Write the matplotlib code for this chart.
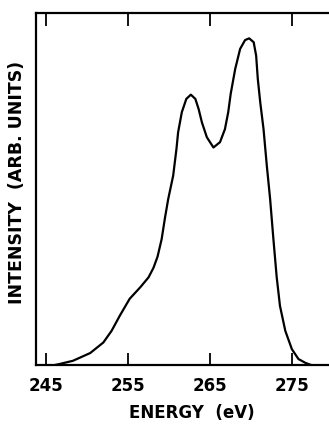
import matplotlib
matplotlib.use("Agg")
import matplotlib.pyplot as plt

# spectrum (energy in eV, intensity in arbitrary units 0-100)
energy = [246.1, 246.7, 248.3, 250.4, 252.0, 253.0, 254.0, 255.2, 256.5, 257.5,
          258.1, 258.6, 259.1, 259.5, 259.9, 260.5, 260.9, 261.1, 261.55, 262.1,
          262.65, 263.2, 263.6, 264.0, 264.6, 265.4, 266.2, 266.8, 267.2, 267.5,
          268.05, 268.65, 269.25, 269.75, 270.3, 270.6, 270.8, 271.1, 271.5, 271.9,
          272.3, 272.7, 273.1, 273.5, 274.15, 274.95, 275.75, 276.6, 277.3]
intensity = [0.0, 0.3, 1.2, 3.4, 6.4, 9.7, 14.0, 18.8, 22.1, 24.9,
             27.6, 30.8, 35.8, 41.8, 47.2, 53.8, 61.4, 66.1, 71.8, 75.6,
             76.8, 75.6, 72.7, 68.9, 64.7, 61.8, 63.3, 67.0, 71.8, 77.0,
             84.1, 89.8, 92.3, 92.8, 91.7, 87.9, 81.3, 74.6, 67.0, 56.6,
             47.2, 35.8, 25.0, 16.8, 9.7, 4.5, 1.7, 0.6, 0.0]
xticks = [245, 255, 265, 275]

W, H = 329, 431
fig = plt.figure(figsize=(W / 100, H / 100), dpi=100)
fig.patch.set_facecolor("white")

left, right, top, bottom = 36, 335, 14, 366
ax = fig.add_axes([left / W, 1 - bottom / H, (right - left) / W, (bottom - top) / H])
ax.plot(energy, intensity, color="black", lw=1.6,
        solid_joinstyle="round", solid_capstyle="round")
ax.set_xlim(243.8, 280.2)
ax.set_ylim(0, 100)

ax.set_xticks(xticks)
ax.set_yticks([])
ax.tick_params(axis="x", direction="in", length=9, width=1.3, top=True,
               pad=8, labelsize=12)
for lab in ax.get_xticklabels():
    lab.set_fontweight("bold")
for spine in ax.spines.values():
    spine.set_linewidth(1.6)

fig.text(192 / W, 1 - 413 / H, "ENERGY  (eV)", ha="center", va="center",
         fontsize=12, fontweight="bold")
fig.text(17 / W, 1 - 182 / H, "INTENSITY  (ARB. UNITS)", ha="center", va="center",
         rotation=90, fontsize=12.5, fontweight="bold")

fig.savefig("out.png", dpi=100, facecolor="white")
